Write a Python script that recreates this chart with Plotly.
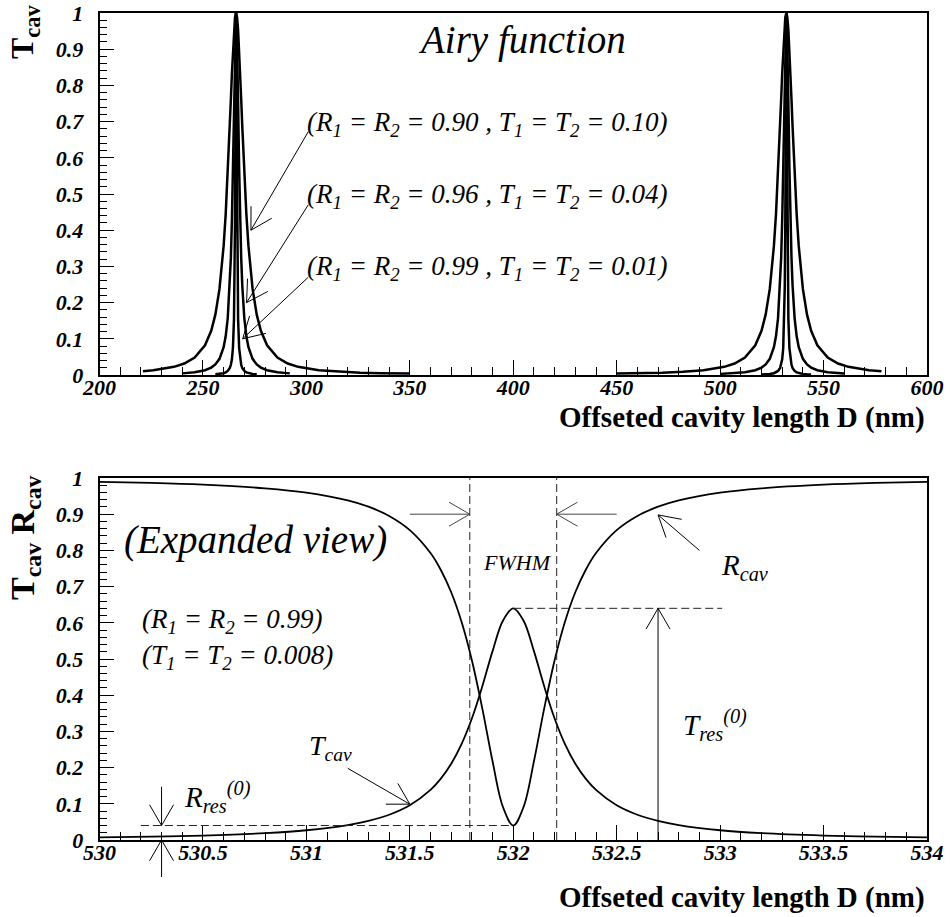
import math
import plotly.graph_objects as go

# ---------------- data ----------------
# Top panel: Airy transmission T_cav vs offseted cavity length D (nm)
D_090_L = [221, 226, 236, 241, 246, 251, 254, 256, 258, 260, 261, 262, 263, 263.5, 264, 264.5, 265, 265.5, 266,
           266.5, 267, 267.5, 268, 268.5, 269, 270, 271, 272, 274, 276, 278, 281, 286, 291, 296, 306, 316, 326, 336, 350]
T_090_L = [0.0107, 0.0132, 0.0226, 0.0318, 0.0483, 0.0821, 0.1222, 0.1667, 0.2379, 0.3565, 0.4437, 0.5547, 0.6888,
           0.7612, 0.8328, 0.8985, 0.9522, 0.9876, 1.0, 0.9876, 0.9522, 0.8985, 0.8328, 0.7612, 0.6888, 0.5547,
           0.4437, 0.3565, 0.2379, 0.1667, 0.1222, 0.0821, 0.0483, 0.0318, 0.0226, 0.0132, 0.0089, 0.0065, 0.0051, 0.0040]
D_090_R = [450, 462, 472, 482, 492, 502, 507, 512, 517, 520, 522, 524, 526, 527, 528, 529, 529.5, 530, 530.5, 531,
           531.5, 532, 532.5, 533, 533.5, 534, 534.5, 535, 536, 537, 538, 540, 542, 544, 547, 552, 557, 562, 572, 578]
T_090_R = [0.0041, 0.0051, 0.0065, 0.0089, 0.0132, 0.0226, 0.0318, 0.0483, 0.0821, 0.1222, 0.1667, 0.2379, 0.3565,
           0.4437, 0.5547, 0.6888, 0.7612, 0.8328, 0.8985, 0.9522, 0.9876, 1.0, 0.9876, 0.9522, 0.8985, 0.8328,
           0.7612, 0.6888, 0.5547, 0.4437, 0.3565, 0.2379, 0.1667, 0.1222, 0.0821, 0.0483, 0.0318, 0.0226, 0.0132, 0.0103]

D_096_L = [240, 246, 251, 254, 256, 258, 260, 261, 262, 263, 263.5, 264, 264.5, 265, 265.25, 265.5, 265.75, 266,
           266.25, 266.5, 266.75, 267, 267.5, 268, 268.5, 269, 270, 271, 272, 274, 276, 278, 281, 286, 292]
T_096_L = [0.0045, 0.0076, 0.0132, 0.0205, 0.0291, 0.0447, 0.0767, 0.1068, 0.1574, 0.2493, 0.3235, 0.4276, 0.5704,
           0.7492, 0.8415, 0.9228, 0.9795, 1.0, 0.9795, 0.9228, 0.8415, 0.7492, 0.5704, 0.4276, 0.3235, 0.2493,
           0.1574, 0.1068, 0.0767, 0.0447, 0.0291, 0.0205, 0.0132, 0.0076, 0.0045]
D_096_R = [500, 512, 517, 520, 522, 524, 526, 527, 528, 529, 529.5, 530, 530.5, 531, 531.25, 531.5, 531.75, 532,
           532.25, 532.5, 532.75, 533, 533.5, 534, 534.5, 535, 536, 537, 538, 540, 542, 544, 547, 552, 560]
T_096_R = [0.0031, 0.0076, 0.0132, 0.0205, 0.0291, 0.0447, 0.0767, 0.1068, 0.1574, 0.2493, 0.3235, 0.4276, 0.5704,
           0.7492, 0.8415, 0.9228, 0.9795, 1.0, 0.9795, 0.9228, 0.8415, 0.7492, 0.5704, 0.4276, 0.3235, 0.2493,
           0.1574, 0.1068, 0.0767, 0.0447, 0.0291, 0.0205, 0.0132, 0.0076, 0.0039]

D_099_L = [256, 258, 260, 261, 262, 263, 263.5, 264, 264.5, 265, 265.25, 265.5, 265.75, 266,
           266.25, 266.5, 266.75, 267, 267.5, 268, 268.5, 269, 270, 271, 272, 274, 276]
T_099_L = [0.0018, 0.0028, 0.0050, 0.0072, 0.0112, 0.0197, 0.0282, 0.0433, 0.0745, 0.1533, 0.2435, 0.4200, 0.7433,
           1.0, 0.7433, 0.4200, 0.2435, 0.1533, 0.0745, 0.0433, 0.0282, 0.0197, 0.0112, 0.0072, 0.0050, 0.0028, 0.0018]
D_099_R = [520, 522, 524, 526, 527, 528, 529, 529.5, 530, 530.5, 531, 531.25, 531.5, 531.75, 532,
           532.25, 532.5, 532.75, 533, 533.5, 534, 534.5, 535, 536, 537, 538, 540, 542, 544]
T_099_R = [0.0013, 0.0018, 0.0028, 0.0050, 0.0072, 0.0112, 0.0197, 0.0282, 0.0433, 0.0745, 0.1533, 0.2435, 0.4200,
           0.7433, 1.0, 0.7433, 0.4200, 0.2435, 0.1533, 0.0745, 0.0433, 0.0282, 0.0197, 0.0112, 0.0072, 0.0050,
           0.0028, 0.0018, 0.0013]

# Bottom panel: expanded view around 532 nm
D_EXP = [530, 530.25, 530.5, 530.8, 531, 531.2, 531.3, 531.4, 531.5, 531.6, 531.65, 531.7, 531.75, 531.8, 531.85,
         531.9, 531.95, 532, 532.05, 532.1, 532.15, 532.2, 532.25, 532.3, 532.35, 532.4, 532.5, 532.6, 532.7,
         532.8, 533, 533.2, 533.5, 533.75, 534]
T_CAV = [0.0070, 0.0091, 0.0123, 0.0190, 0.0270, 0.0413, 0.0528, 0.0698, 0.0960, 0.1383, 0.1694, 0.2105, 0.2648,
         0.3356, 0.4238, 0.5217, 0.6057, 0.6400, 0.6057, 0.5217, 0.4238, 0.3356, 0.2648, 0.2105, 0.1694, 0.1383,
         0.0960, 0.0698, 0.0528, 0.0413, 0.0270, 0.0190, 0.0123, 0.0091, 0.0070]
R_CAV = [0.9895, 0.9864, 0.9815, 0.9715, 0.9595, 0.9381, 0.9207, 0.8952, 0.8560, 0.7926, 0.7459, 0.6843, 0.6028,
         0.4966, 0.3643, 0.2175, 0.0915, 0.0400, 0.0915, 0.2175, 0.3643, 0.4966, 0.6028, 0.6843, 0.7459, 0.7926,
         0.8560, 0.8952, 0.9207, 0.9381, 0.9595, 0.9715, 0.9815, 0.9864, 0.9895]

FWHM_LEFT, FWHM_RIGHT = 531.79, 532.21
T_RES, R_RES, D_RES = 0.64, 0.04, 532.0

TOP_XTICKS = [200, 250, 300, 350, 400, 450, 500, 550, 600]
BOT_XTICKS = [530, 530.5, 531, 531.5, 532, 532.5, 533, 533.5, 534]
YTICKS = [0, 0.1, 0.2, 0.3, 0.4, 0.5, 0.6, 0.7, 0.8, 0.9, 1]
YTICKTEXT = ["0", "0.1", "0.2", "0.3", "0.4", "0.5", "0.6", "0.7", "0.8", "0.9", "1"]

# ---------------- layout geometry ----------------
W, H = 950, 917
PL, PR = 99.5, 927.0
T1, B1 = 13.0, 375.0
T2, B2 = 478.0, 840.0
SERIF = '"Liberation Serif", "Times New Roman", "DejaVu Serif", serif'

def px(x):
    return x / W

def py(y):
    return 1 - y / H

SX1 = (PR - PL) / 400.0
SY1 = (B1 - T1)
SX2 = (PR - PL) / 4.0
SY2 = (B2 - T2)

fig = go.Figure()

def curve(x, y, xa, ya, width, shape="linear"):
    fig.add_trace(go.Scatter(x=x, y=y, mode="lines", xaxis=xa, yaxis=ya,
                             line=dict(color="black", width=width, shape=shape),
                             hoverinfo="skip", showlegend=False))

for xs, ys in [(D_090_L, T_090_L), (D_090_R, T_090_R), (D_096_L, T_096_L),
               (D_096_R, T_096_R), (D_099_L, T_099_L), (D_099_R, T_099_R)]:
    curve(xs, ys, "x", "y", 2.5)

curve(D_EXP, R_CAV, "x2", "y2", 1.8, "spline")
curve(D_EXP, T_CAV, "x2", "y2", 1.8, "spline")

shapes = []

def seg(xref, yref, x0, y0, x1, y1, color="black", width=1, dash=None):
    ln = dict(color=color, width=width)
    if dash:
        ln["dash"] = dash
    shapes.append(dict(type="line", xref=xref, yref=yref, x0=x0, y0=y0, x1=x1, y1=y1, line=ln))

def arrow(xref, yref, sx, sy, x0, y0, x1, y1, color="black", width=1, head=24, ang=30):
    seg(xref, yref, x0, y0, x1, y1, color, width)
    dxp = (x0 - x1) * sx
    dyp = (y0 - y1) * sy
    th = math.atan2(dyp, dxp)
    for s in (1, -1):
        a = th + s * math.radians(ang)
        seg(xref, yref, x1, y1, x1 + head * math.cos(a) / sx, y1 + head * math.sin(a) / sy, color, width)

# top panel label arrows
arrow("x", "y", SX1, SY1, 300.9, 0.672, 273.2, 0.40)
arrow("x", "y", SX1, SY1, 300.9, 0.47, 271.1, 0.20)
arrow("x", "y", SX1, SY1, 300.9, 0.27, 269.2, 0.10)

# bottom panel guides
DASH = "8px,4px"
seg("x2", "y2", FWHM_LEFT, 0, FWHM_LEFT, 1, "#222", 1, DASH)
seg("x2", "y2", FWHM_RIGHT, 0, FWHM_RIGHT, 1, "#222", 1, DASH)
seg("x2", "y2", 530.2, R_RES, D_RES, R_RES, "#222", 1, DASH)
seg("x2", "y2", D_RES, T_RES, 533.01, T_RES, "#222", 1, DASH)

arrow("x2", "y2", SX2, SY2, 531.5, 0.9, FWHM_LEFT, 0.9, "#444")
arrow("x2", "y2", SX2, SY2, 532.5, 0.9, FWHM_RIGHT, 0.9, "#444")
arrow("x2", "y2", SX2, SY2, 532.7, 0.0, 532.7, T_RES)
arrow("x2", "y2", SX2, SY2, 531.2, 0.198, 531.5, 0.099)
arrow("x2", "y2", SX2, SY2, 532.9, 0.80, 532.7, 0.898)
arrow("x2", "y2", SX2, SY2, 530.3, 0.147, 530.3, R_RES)
# up arrow from below the axis (paper coordinates, not clipped)
xr = PL + 0.3 * SX2
arrow("paper", "paper", W, H, px(xr), py(877), px(xr), py(B2))

# ---------------- annotations ----------------
ann = []

def text(t, x, y, size, xanchor="left", yanchor="middle", bold=False, italic=True, angle=0):
    f = dict(family=SERIF, size=size, color="black")
    if bold:
        f["weight"] = "bold"
    if italic:
        f["style"] = "italic"
    ann.append(dict(text=t, x=px(x), y=py(y), xref="paper", yref="paper", xanchor=xanchor,
                    yanchor=yanchor, showarrow=False, font=f, textangle=angle))

text("Airy function", 522, 40, 39, xanchor="center")
text("(R<sub>1</sub> = R<sub>2</sub> = 0.90 , T<sub>1</sub> = T<sub>2</sub> = 0.10)", 305, 124, 27)
text("(R<sub>1</sub> = R<sub>2</sub> = 0.96 , T<sub>1</sub> = T<sub>2</sub> = 0.04)", 305, 196, 27)
text("(R<sub>1</sub> = R<sub>2</sub> = 0.99 , T<sub>1</sub> = T<sub>2</sub> = 0.01)", 305, 268, 27)
text("T<sub>cav</sub>", 25, 32, 32, xanchor="center", bold=True, italic=False, angle=-90)
text("Offseted cavity length D (nm)", PR, 417, 29, xanchor="right", bold=True, italic=False)

text("(Expanded view)", 122, 540, 39)
text("(R<sub>1</sub> = R<sub>2</sub> = 0.99)", 140, 621, 27)
text("(T<sub>1</sub> = T<sub>2</sub> = 0.008)", 140, 657, 27)
text("T<sub>cav</sub>", 307, 747, 28)
text("R<sub>res</sub><sup>(0)</sup>", 182, 797, 29)
text("FWHM", 517, 562, 22, xanchor="center")
text("R<sub>cav</sub>", 719, 567, 29)
text("T<sub>res</sub><sup>(0)</sup>", 681, 725, 29)
text("T<sub>cav</sub> R<sub>cav</sub>", 25, 538, 34, xanchor="center", bold=True, italic=False, angle=-90)
text("Offseted cavity length D (nm)", PR, 897, 29, xanchor="right", bold=True, italic=False)

tickfont = dict(family=SERIF, size=22, color="black", weight="bold", style="italic")

def xaxis(rng, tickvals, minor_dtick, anchor):
    return dict(domain=[px(PL), px(PR)], range=rng, anchor=anchor, tickmode="array", tickvals=tickvals,
                ticktext=[("%g" % v) for v in tickvals],
                ticks="inside", ticklen=15, tickwidth=1, tickcolor="black",
                minor=dict(ticks="inside", ticklen=8, tickwidth=1, tickcolor="black",
                           dtick=minor_dtick, tick0=rng[0]),
                showline=True, linecolor="black", linewidth=1.5, mirror=True,
                showgrid=False, zeroline=False, tickfont=tickfont, ticklabelstandoff=-8,
                automargin=False, fixedrange=True)

def yaxis(top, bot, anchor):
    return dict(domain=[py(bot), py(top)], range=[0, 1], anchor=anchor, tickmode="array", tickvals=YTICKS,
                ticktext=YTICKTEXT, ticks="inside", ticklen=15, tickwidth=1, tickcolor="black",
                minor=dict(ticks="inside", ticklen=8, tickwidth=1, tickcolor="black", dtick=0.02, tick0=0),
                showline=True, linecolor="black", linewidth=1.5, mirror=True,
                showgrid=False, zeroline=False, tickfont=tickfont, ticklabelstandoff=10,
                automargin=False, fixedrange=True)

fig.update_layout(
    width=W, height=H, margin=dict(l=0, r=0, t=0, b=0),
    paper_bgcolor="white", plot_bgcolor="white", showlegend=False,
    font=dict(family=SERIF),
    xaxis=xaxis([200, 600], TOP_XTICKS, 10, "y"),
    yaxis=yaxis(T1, B1, "x"),
    xaxis2=xaxis([530, 534], BOT_XTICKS, 0.1, "y2"),
    yaxis2=yaxis(T2, B2, "x2"),
    shapes=shapes, annotations=ann,
)

fig.write_html("out.html")
